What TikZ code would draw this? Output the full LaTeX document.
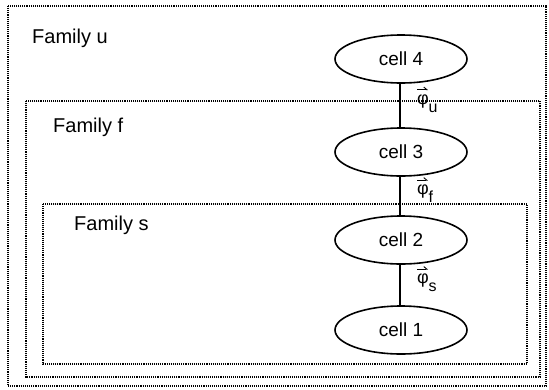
\documentclass[tikz,border=0pt]{standalone}
\usepackage{fontspec}
\setmainfont{Liberation Sans}
\usetikzlibrary{shapes.geometric,arrows.meta}
\tikzset{
  famtext/.style={anchor=base west, inner sep=0pt, font=\fontsize{20}{20}\selectfont},
  cellnode/.style={draw, ellipse, line width=1.6pt, minimum width=132pt, minimum height=48pt, inner sep=0pt, font=\fontsize{19}{19}\selectfont},
  famframe/.style={densely dotted, line width=1.1pt},
  link/.style={line width=2pt},
  philabel/.style={anchor=west, inner sep=0pt, xshift=16pt, yshift=2pt, font=\fontsize{18}{18}\selectfont},
  vecarrow/.style={line width=0.9pt, -{Straight Barb[left, length=3pt, width=5pt]}}
}
\newcommand{\philab}[1]{φ\raisebox{-8pt}{\fontsize{16}{16}\selectfont #1}}
\begin{document}
\begin{tikzpicture}[x=1pt, y=-1pt]
\useasboundingbox (0,0) rectangle (549,389);
% family frames
\draw[famframe] (8,6) rectangle (546,386);
\draw[famframe] (26,101) rectangle (540,377);
\draw[famframe] (43,204) rectangle (527,364);
% family titles
\node[famtext] (fu) at (32,43) {Family u};
\node[famtext] (ff) at (53,132) {Family f};
\node[famtext] (fs) at (74,230) {Family s};
% cells
\node[cellnode] (c4) at (401,59) {cell 4};
\node[cellnode] (c3) at (401,152) {cell 3};
\node[cellnode] (c2) at (401,240) {cell 2};
\node[cellnode] (c1) at (401,330) {cell 1};
% links with flux labels
\draw[link] ([xshift=-1pt]c4.south) -- ([xshift=-1pt]c3.north) node[midway, philabel] (pu) {\philab{u}};
\draw[link] ([xshift=-1pt]c3.south) -- ([xshift=-1pt]c2.north) node[midway, philabel] (pf) {\philab{f}};
\draw[link] ([xshift=-1pt]c2.south) -- ([xshift=-1pt]c1.north) node[midway, philabel] (ps) {\philab{s}};
% vector arrows over phi
\foreach \n in {pu,pf,ps}
  \draw[vecarrow] ([xshift=1pt, yshift=4pt]\n.north west) -- ([xshift=12pt, yshift=4pt]\n.north west);
\end{tikzpicture}
\end{document}
